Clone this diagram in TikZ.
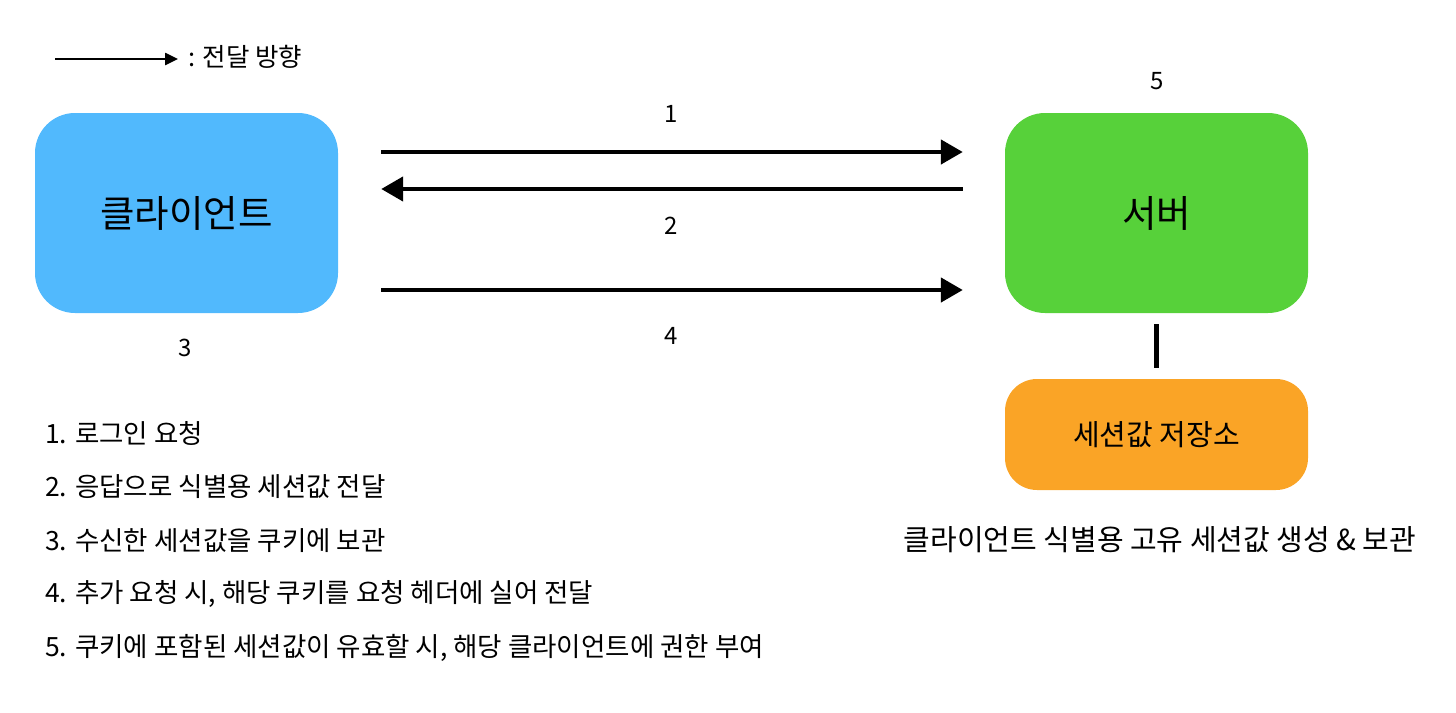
\documentclass[tikz,border=0pt]{standalone}
\usepackage{fontspec}
\setmainfont{Noto Sans CJK KR}
\usetikzlibrary{arrows.meta,positioning}
\definecolor{clientblue}{RGB}{81,185,253}
\definecolor{servergreen}{RGB}{87,209,58}
\definecolor{storeorange}{RGB}{250,164,38}
\tikzset{
	box/.style={rounded corners=40pt, minimum width=303pt, minimum height=200pt, inner sep=0pt},
	flow/.style={line width=4.5pt, -{Triangle[length=22pt,width=24pt]}},
	big/.style={font=\fontsize{37.5}{44}\selectfont},
	small/.style={font=\fontsize{24}{28}\selectfont},
	listtext/.style={font=\fontsize{26.5}{30}\selectfont},
	mid/.style={font=\fontsize{29}{34}\selectfont},
}

\begin{document}
\begin{tikzpicture}[x=1pt,y=-1pt]
		\useasboundingbox (0,0) rectangle (1456,712);
		% legend
		\coordinate (lgstart) at (55,59);
		\coordinate (lgend) at (178,59);
		\draw[line width=2.5pt,-{Triangle[length=13pt,width=12pt]}] (lgstart) -- (lgend);
		\node[font=\fontsize{25.5}{30}\selectfont, anchor=west, inner sep=0pt] (lgtext) at (188,57) {: 전달 방향};
		
		\node[box, fill=clientblue, big] (client) at (186.5,213) {클라이언트};
		\node[box, fill=servergreen, big] (server) at (1156.5,213) {서버};
		\node[box, fill=storeorange, mid, minimum height=111pt, rounded corners=32pt] (store) at (1156.5,434.5) {세션값 저장소};
		\node[small] (num5) at (1157,81) {5};
		\node[small] (num3) at (185,348) {3};
		
		\draw[flow, shorten <=43pt, shorten >=42pt] ([yshift=61pt]client.east) -- ([yshift=61pt]server.west) node[midway, small, yshift=38pt] (lab1) {1};
		\draw[flow, shorten <=42pt, shorten >=43pt] ([yshift=24pt]server.west) -- ([yshift=24pt]client.east) node[midway, small, yshift=-37pt] (lab2) {2};
		\draw[flow, shorten <=43pt, shorten >=42pt] ([yshift=-77pt]client.east) -- ([yshift=-77pt]server.west) node[midway, small, yshift=-46pt] (lab4) {4};
		\draw[line width=5pt, shorten <=11pt, shorten >=11pt] (server.south) -- (store.north);
		\node[mid] (caption) at (1160,540) {클라이언트 식별용 고유 세션값 생성 \& 보관};
		
		\foreach \i/\t in {1/{로그인 요청},2/{응답으로 식별용 세션값 전달},3/{수신한 세션값을 쿠키에 보관},4/{추가 요청 시, 해당 쿠키를 요청 헤더에 실어 전달},5/{쿠키에 포함된 세션값이 유효할 시, 해당 클라이언트에 권한 부여}}
		\node[listtext, anchor=west, inner sep=0pt] (item\i) at (45,{433+(\i-1)*53.75}) {\i. \t};
	\end{tikzpicture}
\end{document}
